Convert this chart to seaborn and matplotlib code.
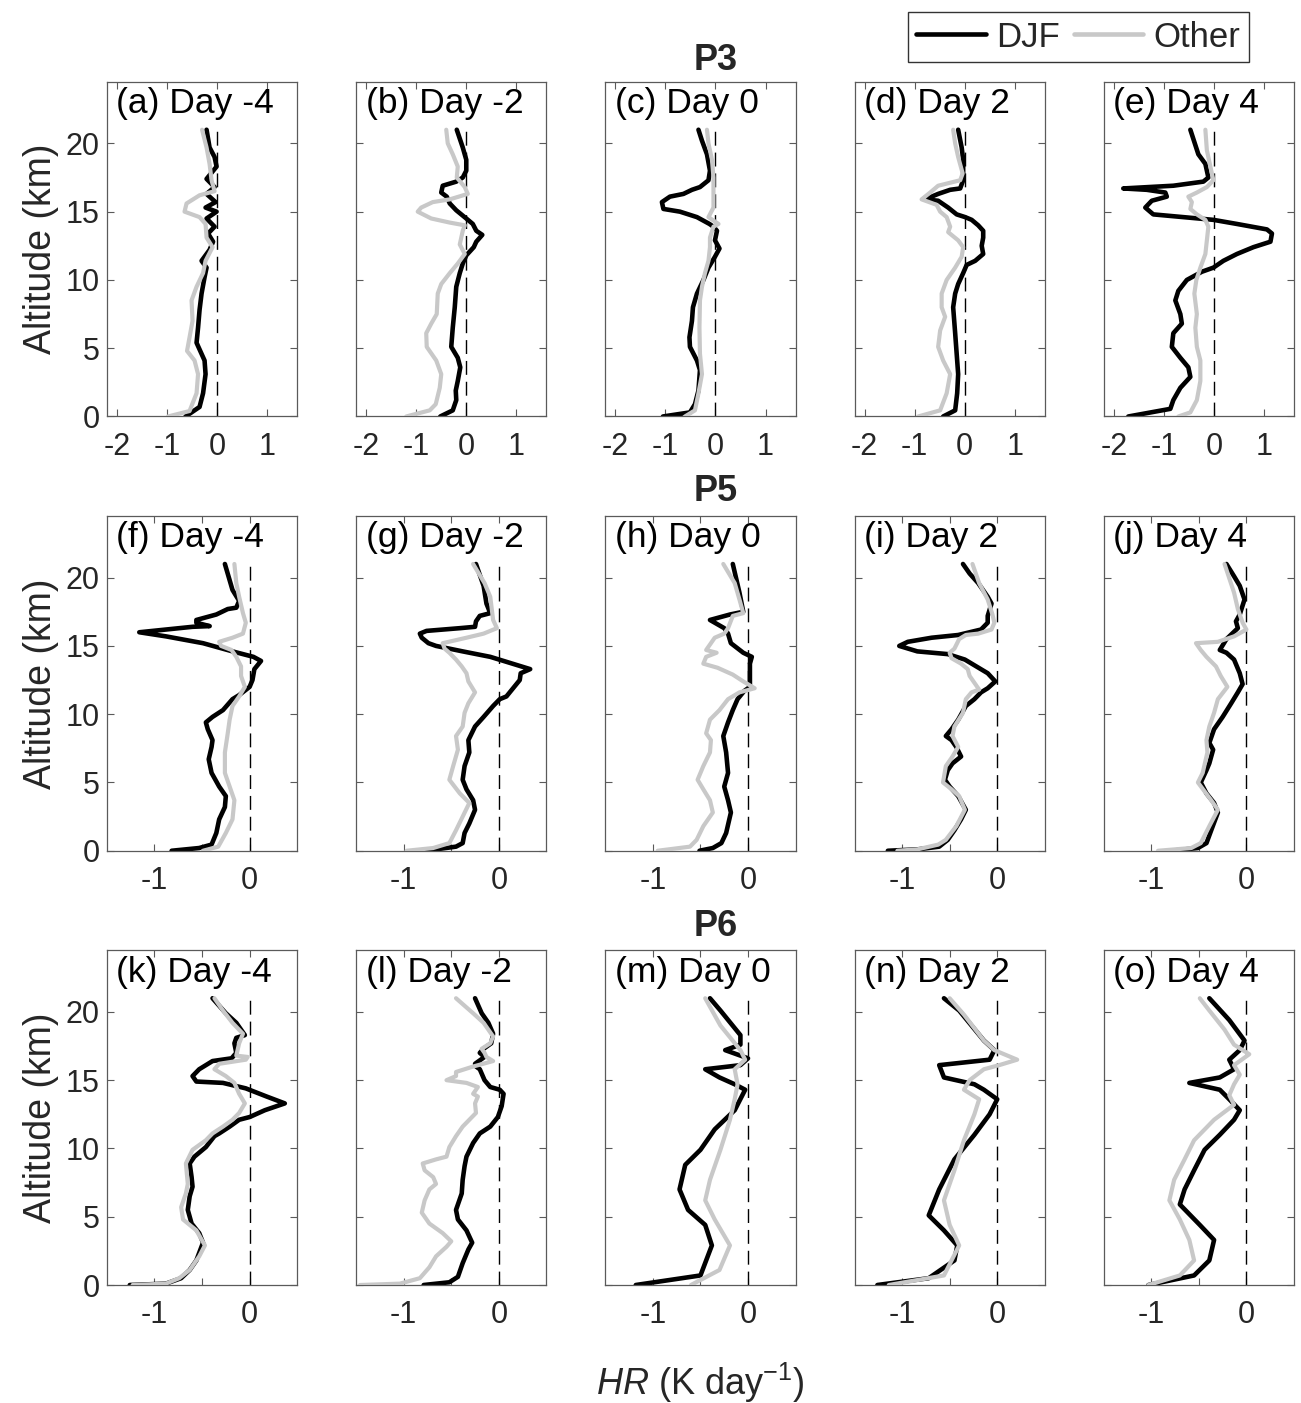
import numpy as np
import pandas as pd
import matplotlib
matplotlib.use("Agg")
import matplotlib.pyplot as plt
import seaborn as sns
from matplotlib.lines import Line2D

sns.set_theme(style="ticks")
plt.rcParams["font.family"] = ["Liberation Sans", "DejaVu Sans"]
plt.rcParams["axes.unicode_minus"] = False
plt.rcParams["mathtext.fontset"] = "custom"
plt.rcParams["mathtext.rm"] = "Liberation Sans"
plt.rcParams["mathtext.it"] = "Liberation Sans:italic"

# ---------------- data: (altitude km, HR K/day) ----------------
a_djf = [(0,-0.63),(0.7,-0.35),(1.7,-0.28),(3.1,-0.23),(4.1,-0.25),(5.4,-0.41),(6.5,-0.38),(7.8,-0.35),(9.0,-0.31),(10.2,-0.25),(10.9,-0.21),(11.4,-0.31),(12.2,-0.15),(12.8,-0.08),(13.4,-0.18),(13.9,-0.05),(14.5,-0.21),(15.0,-0.01),(15.3,-0.23),(15.7,-0.03),(16.3,-0.21),(16.8,-0.05),(17.4,-0.21),(18.3,-0.01),(19.0,-0.05),(19.7,-0.15),(21.0,-0.21)]
a_oth = [(0,-0.98),(0.4,-0.55),(1.7,-0.41),(3.1,-0.38),(4.1,-0.45),(4.8,-0.6),(5.8,-0.55),(7.0,-0.49),(8.5,-0.51),(9.5,-0.41),(10.5,-0.28),(11.4,-0.23),(12.4,-0.09),(13.1,-0.21),(14.1,-0.23),(14.6,-0.35),(15.0,-0.65),(15.6,-0.61),(16.2,-0.35),(16.5,-0.05),(17.3,-0.11),(18.5,-0.15),(19.7,-0.21),(21.0,-0.30)]

b_djf = [(0,-0.52),(0.45,-0.27),(1.2,-0.2),(1.9,-0.21),(2.6,-0.17),(3.6,-0.12),(4.3,-0.17),(5.1,-0.3),(6.5,-0.27),(8.0,-0.23),(9.5,-0.2),(10.5,-0.13),(11.2,-0.07),(11.8,0.0),(12.4,0.15),(12.8,0.2),(13.3,0.32),(13.6,0.2),(14.1,0.13),(14.5,0.0),(15.1,-0.2),(15.6,-0.33),(16.1,-0.39),(16.4,-0.5),(16.9,-0.47),(17.2,-0.2),(17.5,-0.07),(18.0,0.0),(18.8,0.0),(19.7,-0.07),(21.0,-0.19)]
b_oth = [(0,-1.2),(0.45,-0.73),(0.9,-0.61),(2.1,-0.53),(3.1,-0.5),(4.1,-0.6),(5.1,-0.79),(6.1,-0.8),(6.8,-0.7),(7.5,-0.59),(9.0,-0.57),(9.7,-0.5),(10.5,-0.33),(11.2,-0.17),(11.9,-0.03),(12.6,-0.13),(13.6,-0.07),(14.0,-0.03),(14.2,-0.33),(14.5,-0.7),(15.0,-0.97),(15.3,-0.9),(15.7,-0.67),(15.9,-0.33),(16.3,0.03),(16.8,-0.03),(17.5,-0.19),(18.3,-0.17),(19.2,-0.27),(20.0,-0.37),(21.0,-0.4)]

c_djf = [(0,-1.05),(0.3,-0.51),(0.9,-0.41),(1.9,-0.34),(3.4,-0.31),(4.1,-0.37),(5.1,-0.51),(5.8,-0.52),(7.0,-0.47),(8.0,-0.45),(9.0,-0.37),(10.0,-0.24),(10.9,-0.14),(11.7,-0.01),(12.3,0.08),(12.9,-0.01),(13.6,0.03),(13.9,-0.04),(14.1,-0.12),(14.6,-0.37),(15.0,-0.71),(15.2,-1.04),(15.7,-1.07),(16.1,-0.91),(16.3,-0.64),(16.6,-0.47),(16.8,-0.31),(17.3,-0.14),(18.0,-0.11),(19.2,-0.17),(20.2,-0.27),(21.0,-0.34)]
c_oth = [(0,-0.61),(0.45,-0.41),(1.7,-0.34),(3.1,-0.27),(4.6,-0.31),(6.5,-0.32),(8.5,-0.31),(9.5,-0.27),(10.5,-0.21),(11.4,-0.14),(12.4,-0.11),(13.1,-0.11),(13.9,-0.04),(14.1,0.06),(14.6,-0.14),(15.3,-0.04),(16.3,-0.04),(17.5,-0.04),(18.8,-0.07),(20.0,-0.14),(21.0,-0.17)]

d_djf = [(0,-0.43),(0.45,-0.19),(1.7,-0.15),(3.1,-0.13),(4.6,-0.16),(6.1,-0.19),(8.0,-0.23),(9.0,-0.19),(9.7,-0.13),(10.5,-0.03),(11.1,0.04),(11.4,0.21),(11.9,0.37),(12.5,0.34),(13.1,0.37),(13.6,0.37),(14.0,0.27),(14.4,0.14),(14.6,0.01),(14.8,-0.16),(15.3,-0.33),(15.8,-0.53),(15.9,-0.79),(16.3,-0.53),(16.6,-0.29),(16.7,-0.09),(17.3,-0.03),(18.8,-0.03),(19.7,-0.06),(21.0,-0.13)]
d_oth = [(0,-0.93),(0.45,-0.49),(1.7,-0.36),(3.1,-0.29),(4.1,-0.43),(5.1,-0.53),(6.3,-0.49),(7.3,-0.39),(8.0,-0.46),(9.0,-0.46),(10.0,-0.36),(10.9,-0.19),(11.7,-0.06),(12.4,-0.03),(12.9,-0.13),(13.5,-0.33),(13.9,-0.29),(14.6,-0.36),(15.0,-0.49),(15.5,-0.56),(15.9,-0.86),(16.4,-0.69),(16.9,-0.53),(17.3,-0.09),(17.8,-0.04),(19.0,-0.13),(20.0,-0.19),(21.0,-0.23)]

e_djf = [(0,-1.71),(0.56,-0.87),(1.2,-0.81),(2.1,-0.67),(2.9,-0.47),(3.6,-0.51),(4.3,-0.67),(5.1,-0.84),(6.1,-0.81),(6.8,-0.64),(7.5,-0.67),(8.5,-0.77),(9.2,-0.71),(10.0,-0.54),(10.6,-0.24),(10.9,-0.01),(11.4,0.19),(11.9,0.46),(12.4,0.79),(12.8,1.13),(13.4,1.16),(13.7,1.06),(14.1,0.46),(14.4,-0.01),(14.6,-0.61),(14.8,-1.21),(15.3,-1.37),(15.8,-1.24),(16.1,-0.94),(16.4,-0.97),(16.6,-1.34),(16.7,-1.81),(16.9,-0.81),(17.2,-0.21),(17.5,-0.11),(18.5,-0.17),(19.2,-0.31),(21.0,-0.47)]
e_oth = [(0,-0.71),(0.3,-0.47),(1.2,-0.34),(2.6,-0.27),(4.1,-0.27),(5.1,-0.34),(6.5,-0.37),(7.5,-0.34),(9.0,-0.39),(10.0,-0.35),(10.9,-0.27),(11.9,-0.17),(12.9,-0.14),(13.9,-0.11),(14.4,-0.17),(14.8,-0.34),(15.2,-0.47),(15.7,-0.44),(16.1,-0.51),(16.4,-0.34),(16.8,-0.14),(17.3,-0.01),(18.3,-0.07),(19.5,-0.14),(21.0,-0.17)]

f_djf = [(0,-0.82),(0.2,-0.53),(0.45,-0.40),(1.3,-0.35),(2.3,-0.32),(3.2,-0.26),(4.0,-0.25),(4.7,-0.32),(5.7,-0.40),(6.7,-0.43),(7.6,-0.40),(8.1,-0.39),(8.9,-0.44),(9.4,-0.46),(9.8,-0.39),(10.3,-0.28),(11.1,-0.18),(11.4,-0.11),(12.0,0.0),(12.5,0.03),(13.3,0.05),(13.9,0.12),(14.2,0.04),(14.6,-0.18),(15.2,-0.49),(15.7,-0.88),(16.0,-1.16),(16.2,-0.88),(16.4,-0.6),(16.45,-0.42),(16.7,-0.56),(16.9,-0.56),(17.3,-0.35),(17.7,-0.23),(17.8,-0.14),(18.3,-0.11),(19.1,-0.18),(21.0,-0.26)]
f_oth = [(0,-0.49),(0.3,-0.33),(1.3,-0.25),(2.3,-0.18),(3.7,-0.16),(4.7,-0.21),(5.7,-0.26),(7.2,-0.26),(8.6,-0.23),(9.6,-0.21),(10.6,-0.18),(11.3,-0.11),(12.0,-0.05),(12.8,-0.09),(13.5,-0.09),(14.2,-0.14),(14.7,-0.19),(15.0,-0.30),(15.3,-0.32),(15.6,-0.18),(15.9,-0.07),(16.7,-0.04),(17.4,-0.07),(18.6,-0.11),(19.6,-0.14),(21.0,-0.16)]

g_djf = [(0,-0.77),(0.3,-0.45),(0.56,-0.38),(1.3,-0.36),(2.0,-0.31),(3.0,-0.25),(3.7,-0.27),(4.5,-0.34),(5.2,-0.38),(6.2,-0.36),(7.2,-0.31),(8.1,-0.32),(9.1,-0.25),(9.8,-0.16),(10.6,-0.06),(11.1,0.01),(11.3,0.08),(11.9,0.15),(12.5,0.22),(13.0,0.23),(13.3,0.33),(13.6,0.19),(14.2,-0.09),(14.6,-0.38),(15.0,-0.66),(15.2,-0.74),(15.6,-0.81),(15.9,-0.83),(16.1,-0.76),(16.3,-0.41),(16.4,-0.25),(16.8,-0.24),(17.2,-0.2),(17.4,-0.09),(18.1,-0.13),(19.4,-0.16),(21.0,-0.24)]
g_oth = [(0,-0.97),(0.2,-0.69),(0.56,-0.52),(1.5,-0.45),(2.5,-0.38),(3.5,-0.31),(4.2,-0.41),(5.2,-0.52),(6.2,-0.48),(7.4,-0.43),(8.4,-0.45),(9.1,-0.38),(10.1,-0.36),(10.8,-0.32),(11.6,-0.25),(12.4,-0.32),(13.0,-0.34),(13.5,-0.39),(14.0,-0.45),(14.5,-0.52),(14.8,-0.57),(15.2,-0.59),(15.6,-0.34),(15.9,-0.16),(16.3,-0.02),(16.9,-0.06),(18.6,-0.09),(19.6,-0.15),(21.0,-0.27)]

h_djf = [(0,-0.51),(0.2,-0.37),(0.56,-0.28),(1.3,-0.23),(2.8,-0.18),(3.7,-0.21),(4.7,-0.25),(5.7,-0.21),(7.2,-0.23),(8.4,-0.26),(9.4,-0.21),(10.3,-0.16),(11.1,-0.11),(11.7,-0.04),(12.0,0.02),(12.8,0.02),(13.7,0.02),(14.2,0.04),(14.5,-0.05),(15.2,-0.18),(15.9,-0.21),(16.3,-0.25),(16.9,-0.4),(17.3,-0.19),(17.5,-0.05),(18.9,-0.09),(21.0,-0.16)]
h_oth = [(0,-0.95),(0.3,-0.61),(0.8,-0.54),(1.8,-0.47),(2.8,-0.37),(3.7,-0.40),(4.5,-0.47),(5.2,-0.53),(6.2,-0.47),(7.2,-0.40),(8.1,-0.39),(8.6,-0.44),(9.6,-0.40),(10.3,-0.30),(11.1,-0.21),(11.6,-0.09),(11.9,0.07),(12.4,-0.05),(12.9,-0.16),(13.4,-0.32),(13.7,-0.47),(14.2,-0.44),(14.5,-0.33),(14.7,-0.44),(15.1,-0.40),(15.6,-0.35),(15.9,-0.25),(16.3,-0.21),(17.2,-0.16),(17.4,-0.05),(18.4,-0.09),(19.6,-0.14),(21.0,-0.26)]

i_djf = [(0,-1.15),(0.1,-0.84),(0.3,-0.61),(0.8,-0.52),(1.5,-0.45),(2.3,-0.38),(3.0,-0.33),(4.0,-0.41),(4.7,-0.50),(5.2,-0.55),(5.9,-0.52),(6.4,-0.47),(6.9,-0.38),(7.6,-0.43),(8.1,-0.48),(8.4,-0.54),(8.9,-0.48),(9.6,-0.41),(10.6,-0.33),(11.1,-0.24),(11.6,-0.17),(11.9,-0.10),(12.4,-0.02),(13.0,-0.10),(13.5,-0.22),(14.0,-0.34),(14.4,-0.52),(14.6,-0.84),(15.0,-1.03),(15.3,-0.94),(15.6,-0.69),(15.8,-0.41),(16.2,-0.17),(16.7,-0.10),(17.2,-0.10),(18.1,-0.06),(18.6,-0.10),(19.6,-0.20),(20.3,-0.29),(21.0,-0.36)]
i_oth = [(0,-1.05),(0.1,-0.84),(0.45,-0.62),(0.8,-0.54),(1.8,-0.43),(3.0,-0.34),(4.0,-0.40),(4.5,-0.48),(5.0,-0.57),(6.2,-0.54),(6.9,-0.47),(7.6,-0.41),(8.4,-0.47),(9.1,-0.45),(10.1,-0.36),(11.1,-0.33),(11.6,-0.27),(11.8,-0.19),(12.3,-0.24),(12.8,-0.29),(13.3,-0.31),(13.7,-0.38),(14.1,-0.48),(14.5,-0.50),(14.8,-0.45),(15.5,-0.40),(15.8,-0.33),(15.9,-0.20),(16.2,-0.06),(16.7,-0.03),(17.3,-0.05),(18.4,-0.10),(19.6,-0.19),(21.0,-0.26)]

j_djf = [(0,-0.79),(0.2,-0.51),(0.56,-0.42),(1.5,-0.37),(2.8,-0.30),(3.5,-0.34),(4.2,-0.42),(5.0,-0.48),(5.9,-0.42),(6.4,-0.39),(7.4,-0.35),(7.9,-0.39),(8.9,-0.34),(9.8,-0.25),(10.8,-0.16),(11.6,-0.09),(12.2,-0.04),(13.0,-0.07),(14.0,-0.13),(14.5,-0.21),(14.7,-0.28),(15.5,-0.21),(16.3,-0.09),(16.8,-0.11),(17.3,-0.07),(18.4,-0.02),(19.4,-0.07),(20.1,-0.13),(21.0,-0.21)]
j_oth = [(0,-0.93),(0.2,-0.58),(0.56,-0.48),(1.8,-0.39),(3.0,-0.30),(3.7,-0.37),(5.0,-0.51),(5.7,-0.46),(7.2,-0.41),(8.1,-0.42),(9.1,-0.39),(10.1,-0.34),(11.1,-0.30),(12.0,-0.20),(12.8,-0.27),(13.5,-0.32),(14.2,-0.42),(14.7,-0.48),(15.2,-0.53),(15.3,-0.30),(15.7,-0.13),(16.2,0.0),(16.7,-0.04),(17.7,-0.09),(18.9,-0.13),(21.0,-0.23)]

k_djf = [(0,-1.26),(0.1,-0.88),(0.5,-0.72),(1.1,-0.63),(1.8,-0.56),(3.1,-0.49),(3.8,-0.53),(4.5,-0.61),(5.5,-0.65),(6.5,-0.63),(7.2,-0.60),(7.9,-0.61),(8.9,-0.63),(9.4,-0.58),(10.1,-0.46),(10.9,-0.37),(11.1,-0.32),(11.6,-0.21),(12.1,-0.11),(12.3,0.0),(12.8,0.16),(13.3,0.37),(13.8,0.18),(14.4,-0.04),(14.8,-0.28),(14.9,-0.56),(15.3,-0.60),(15.8,-0.53),(16.4,-0.39),(16.6,-0.19),(17.0,-0.14),(17.7,-0.16),(18.1,-0.14),(18.3,-0.05),(19.2,-0.14),(19.9,-0.25),(21.0,-0.39)]
k_oth = [(0,-1.23),(0.1,-0.88),(0.5,-0.74),(1.1,-0.63),(2.1,-0.53),(2.9,-0.47),(4.0,-0.56),(4.8,-0.70),(5.7,-0.72),(6.7,-0.67),(7.4,-0.65),(8.9,-0.67),(9.9,-0.60),(10.6,-0.46),(11.1,-0.39),(11.6,-0.28),(12.1,-0.18),(12.6,-0.11),(13.3,-0.05),(14.0,-0.11),(14.8,-0.16),(15.3,-0.25),(15.8,-0.37),(16.2,-0.32),(16.5,-0.04),(16.7,-0.02),(16.8,-0.14),(17.7,-0.11),(18.4,-0.07),(19.2,-0.18),(20.1,-0.28),(21.0,-0.37)]

l_djf = [(0,-0.79),(0.2,-0.52),(0.6,-0.43),(1.6,-0.38),(2.6,-0.32),(3.1,-0.28),(4.0,-0.34),(4.8,-0.43),(5.5,-0.45),(6.7,-0.39),(7.7,-0.38),(8.7,-0.36),(9.4,-0.34),(10.4,-0.27),(11.1,-0.20),(11.6,-0.09),(12.3,-0.01),(13.1,0.03),(14.0,0.05),(14.3,0.01),(14.5,-0.09),(15.0,-0.15),(15.8,-0.20),(16.0,-0.24),(16.2,-0.25),(16.7,-0.15),(17.0,-0.20),(17.3,-0.16),(17.7,-0.08),(18.4,-0.06),(19.2,-0.11),(19.9,-0.18),(21.0,-0.25)]
l_oth = [(0,-1.46),(0.1,-1.04),(0.5,-0.83),(1.3,-0.73),(2.1,-0.66),(2.8,-0.55),(3.2,-0.50),(3.8,-0.59),(4.5,-0.73),(5.3,-0.81),(6.2,-0.78),(7.0,-0.73),(7.4,-0.66),(7.9,-0.69),(8.4,-0.78),(8.9,-0.80),(9.2,-0.66),(9.4,-0.55),(10.1,-0.52),(10.9,-0.45),(11.6,-0.38),(12.1,-0.31),(12.6,-0.24),(13.3,-0.25),(13.8,-0.22),(14.0,-0.27),(14.5,-0.22),(14.8,-0.34),(15.0,-0.55),(15.3,-0.45),(15.6,-0.45),(16.0,-0.27),(16.4,-0.06),(16.7,-0.13),(17.0,-0.15),(17.3,-0.18),(17.7,-0.09),(18.2,-0.06),(19.2,-0.16),(19.9,-0.27),(21.0,-0.45)]

m_djf = [(0,-1.18),(0.7,-0.5),(2.9,-0.38),(4.4,-0.45),(5.5,-0.63),(7.0,-0.72),(8.8,-0.66),(9.9,-0.5),(11.4,-0.35),(12.8,-0.14),(14.3,-0.03),(14.7,-0.14),(15.2,-0.3),(15.8,-0.45),(16.1,-0.08),(16.6,0.0),(17.2,-0.24),(17.6,-0.08),(18.3,-0.08),(20.1,-0.29),(21.0,-0.40)]
m_oth = [(0,-0.6),(1.1,-0.3),(2.9,-0.19),(4.8,-0.35),(6.2,-0.45),(7.7,-0.4),(9.9,-0.29),(12.1,-0.19),(13.6,-0.14),(14.7,-0.11),(15.8,-0.14),(16.5,-0.03),(17.2,-0.08),(19.0,-0.29),(21.0,-0.45)]

n_djf = [(0,-1.26),(0.5,-0.72),(1.8,-0.45),(2.9,-0.42),(4.0,-0.56),(5.1,-0.72),(7.0,-0.61),(9.2,-0.45),(11.0,-0.24),(12.5,-0.08),(13.6,0.0),(14.3,-0.14),(14.7,-0.24),(15.2,-0.56),(16.1,-0.61),(16.5,-0.08),(17.2,-0.03),(17.9,-0.14),(20.1,-0.4),(21.0,-0.56)]
n_oth = [(0,-1.14),(0.7,-0.56),(2.9,-0.4),(4.4,-0.5),(6.2,-0.56),(8.4,-0.45),(10.6,-0.35),(12.5,-0.24),(13.6,-0.19),(14.3,-0.35),(15.0,-0.29),(15.8,-0.14),(16.1,0.02),(16.5,0.21),(17.2,-0.03),(17.9,-0.14),(19.8,-0.35),(21.0,-0.5)]

o_djf = [(0,-1.03),(0.7,-0.55),(1.8,-0.39),(3.3,-0.34),(4.4,-0.49),(5.9,-0.7),(7.0,-0.65),(8.4,-0.55),(9.9,-0.44),(11.0,-0.28),(12.1,-0.13),(12.8,-0.07),(13.6,-0.18),(14.3,-0.28),(14.8,-0.6),(15.2,-0.28),(15.8,-0.13),(16.5,-0.18),(17.2,-0.07),(17.9,-0.02),(19.4,-0.18),(21.0,-0.39)]
o_oth = [(0,-1.03),(0.7,-0.7),(1.8,-0.55),(3.3,-0.6),(4.8,-0.7),(6.2,-0.81),(7.7,-0.76),(9.2,-0.65),(10.6,-0.55),(12.1,-0.34),(13.2,-0.13),(13.9,-0.18),(14.7,-0.13),(15.4,-0.07),(16.1,-0.13),(16.9,0.03),(17.6,-0.13),(18.7,-0.23),(20.1,-0.39),(21.0,-0.49)]

panel_letters = ["a","b","c","d","e","f","g","h","i","j","k","l","m","n","o"]
day_labels = ["Day -4", "Day -2", "Day 0", "Day 2", "Day 4"]
row_titles = ["P3", "P5", "P6"]
series_labels = ["DJF", "Other"]
djf_series = [a_djf,b_djf,c_djf,d_djf,e_djf,f_djf,g_djf,h_djf,i_djf,j_djf,k_djf,l_djf,m_djf,n_djf,o_djf]
oth_series = [a_oth,b_oth,c_oth,d_oth,e_oth,f_oth,g_oth,h_oth,i_oth,j_oth,k_oth,l_oth,m_oth,n_oth,o_oth]

DJF_COLOR = "black"
OTH_COLOR = "#c8c8c8"
SPINE = "#5a5a5a"

fig, axes = plt.subplots(3, 5, figsize=(13.01, 14.03), dpi=100)
fig.subplots_adjust(left=0.0822, right=0.9946, bottom=0.0841, top=0.9416,
                    wspace=0.31, hspace=0.298)

for idx in range(15):
    r, c = divmod(idx, 5)
    ax = axes[r, c]
    dj = pd.DataFrame(djf_series[idx], columns=["alt", "hr"])
    ot = pd.DataFrame(oth_series[idx], columns=["alt", "hr"])
    ax.vlines(0, 0, 21, colors="black", linestyles=(0, (10, 5)), linewidth=1.0, zorder=1)
    sns.lineplot(data=dj, x="hr", y="alt", sort=False, estimator=None, ax=ax,
                 color=DJF_COLOR, linewidth=3.3, zorder=2)
    sns.lineplot(data=ot, x="hr", y="alt", sort=False, estimator=None, ax=ax,
                 color=OTH_COLOR, linewidth=3.0, zorder=3)
    ax.set_ylim(0, 24.5)
    ax.set_yticks([0, 5, 10, 15, 20])
    if r == 0:
        ax.set_xlim(-2.2, 1.6)
        ax.set_xticks([-2, -1, 0, 1])
        ax.set_xticklabels(["-2", "-1", "0", "1"])
    else:
        ax.set_xlim(-1.5, 0.5)
        ax.set_xticks([-1, -0.5, 0])
        ax.set_xticklabels(["-1", "", "0"])
    ax.set_xlabel("")
    if c == 0:
        ax.set_ylabel("Altitude (km)", fontsize=27, labelpad=5, color="#262626")
    else:
        ax.set_ylabel("")
        ax.set_yticklabels([])
    ax.tick_params(direction="in", top=True, right=True, length=5, width=0.8,
                   color=SPINE, labelsize=22, labelcolor="#262626")
    ax.tick_params(axis="x", pad=11)
    ax.tick_params(axis="y", pad=5)
    for s in ax.spines.values():
        s.set_color(SPINE)
        s.set_linewidth(0.9)
    ax.text(0.05, 0.935, f"({panel_letters[idx]}) {day_labels[c]}",
            transform=ax.transAxes, fontsize=25.5, ha="left", va="center", color="black")

for y, t in zip([0.957, 0.6495, 0.3395], row_titles):
    fig.text(0.550, y, t, ha="center", va="center", fontsize=26, fontweight="bold")

fig.text(0.538, 0.0143, r"$\mathit{HR}$ (K day$^{-1}$)", ha="center", va="center",
         fontsize=26, color="#262626")

handles = [Line2D([], [], color=DJF_COLOR, linewidth=3.3),
           Line2D([], [], color=OTH_COLOR, linewidth=3.3)]
leg = fig.legend(handles, series_labels, loc="center", bbox_to_anchor=(0.829, 0.9736),
                 ncol=2, frameon=True, fancybox=False, edgecolor="black", fontsize=25,
                 handlelength=2.0, columnspacing=0.4, handletextpad=0.3, borderpad=0.25,
                 borderaxespad=0)
leg.get_frame().set_linewidth(1.0)

fig.savefig("out.png", dpi=100)
